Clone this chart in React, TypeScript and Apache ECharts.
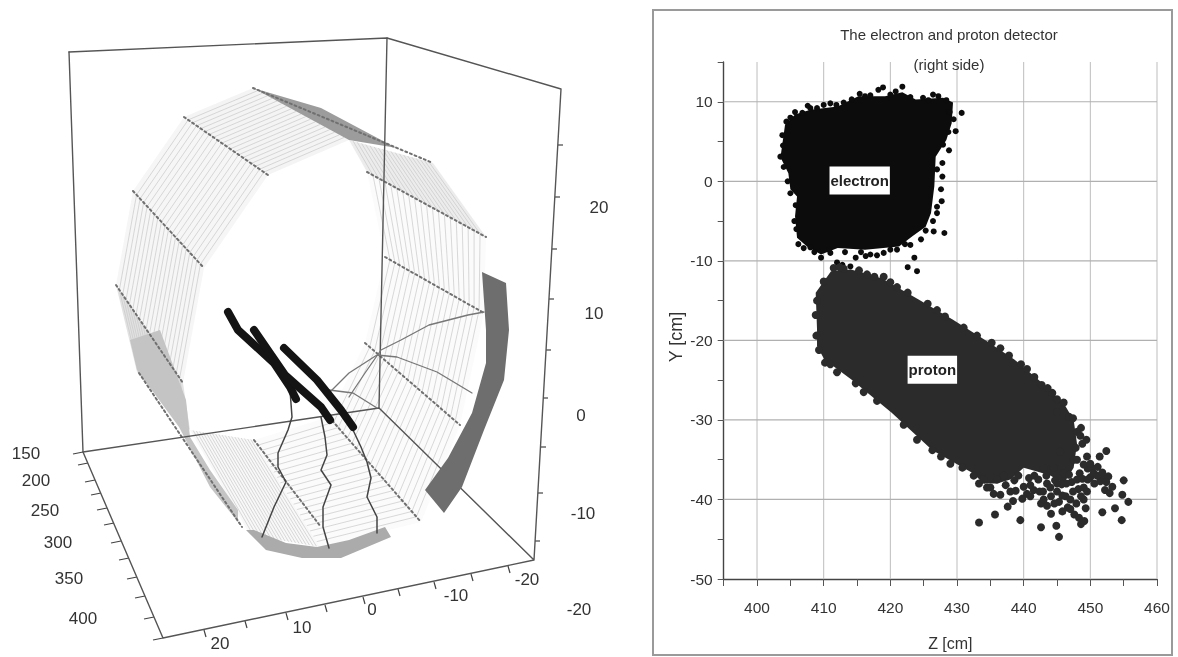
import React, { useEffect, useRef } from "react";
import * as echarts from "echarts";

// ---------- right panel: detector hits (Z [cm], Y [cm]) ----------
const zGrid = [400, 410, 420, 430, 440, 450, 460];
const yGrid = [-50, -40, -30, -20, -10, 0, 10];
const electronOutline = [[403.5,2.9],[404.2,7.1],[405.7,8.4],[408,9],[412.1,9.4],[415.2,10.7],[419.2,10.7],[421.8,11.2],[423.8,10.3],[427.9,10.5],[429.4,9.9],[429.2,7.3],[428.4,5.2],[426.8,3.1],[426.6,-0.6],[426.1,-4],[425.3,-5.7],[423.3,-6.9],[421.3,-8.2],[416.2,-8.6],[412.1,-8.4],[409.6,-9.2],[407.5,-8.2],[406,-7.1],[405.7,-4.4],[406,-1.9],[405,-1],[404.7,1],[403.7,2.7]];
const electronEdge = [[428.9,8.7],[430.7,8.6],[429.8,6.3],[428.8,3.9],[427.8,2.3],[427.8,0.6],[427.6,-1],[427.7,-2.5],[427,-4],[428.1,-6.5],[423.6,-9.6],[422.6,-10.8],[424,-11.3],[418.9,11.8],[418.2,11.5],[421.8,11.9],[414.8,-9.6],[416.3,-9.4],[415.6,-8.9],[412,-10.2],[412.8,-10.5],[414,-10.7],[408,-8.3],[409.6,-9.6],[408,9.2],[405.7,8.7],[403.5,3.1],[410,9.6],[411.9,9.6],[413,9.9],[406.2,-7.9],[407,-8.4],[425.3,-6.2],[426.5,-6.3],[424.6,-7.3],[423,-8],[421,-8.6],[419,-9],[417,-9.2],[426.4,10.9],[424.9,10.5],[415.4,11],[417,10.8],[404.4,7.5],[405,8],[406.8,8.6],[407.6,9.5],[409,9.2],[411,9.8],[414.2,10.3],[416.2,10.7],[420,10.9],[420.8,11.3],[423,10.6],[425.7,10.2],[427.2,10.7],[428.4,10.2],[429.5,7.8],[428.7,6.2],[427.9,4.6],[427,1.5],[427,-3.2],[426.4,-5],[422.2,-7.9],[420,-8.6],[418,-9.3],[413.2,-8.9],[411,-9],[410.8,-8.6],[408.6,-8.9],[405.9,-6],[405.6,-5],[405.8,-3],[405,-1.5],[404.6,0],[404,1.8],[403.9,4.5],[403.8,5.8]];
const protonOutline = [[408.8,-14],[411.1,-11.3],[414.1,-11.1],[418.7,-12.2],[424.3,-14.9],[429.4,-17.4],[434.5,-20.1],[438.6,-22.4],[442.7,-25.3],[446,-27.9],[447.5,-30],[448,-33],[447.5,-36],[446,-38],[444,-37],[442,-36.5],[440,-36],[438,-37.5],[436,-38],[434,-38],[432.4,-36.7],[426.3,-33.8],[420.2,-29.1],[414.1,-24.9],[410.1,-22.4],[409,-20.7],[409,-18.6]];
const protonHits = [[433.3,-42.9],[435.7,-41.9],[437.6,-40.9],[439.5,-42.6],[442.6,-43.5],[444.9,-43.3],[445.3,-44.7],[444.1,-41.8],[442.6,-40.5],[448.6,-43.1],[449.1,-42.7],[451.8,-41.6],[453.7,-41.1],[454.7,-42.6],[454.8,-39.4],[455,-37.6],[455.7,-40.3],[452.4,-33.9],[451.4,-34.6],[449.5,-34.6],[452.2,-38.8],[452.9,-39.2],[452.7,-37.1],[450.6,-38],[449.6,-36.1],[451.1,-35.9],[446,-27.8],[446.8,-29.6],[448.6,-31],[444.3,-26.6],[442.7,-25.6],[410.2,-22.8],[426.3,-33.8],[434.5,-38.5],[435.5,-39.3],[436.5,-39.4],[437.3,-38.2],[438,-39],[438.6,-37.6],[439.8,-39.9],[440,-38.4],[440.8,-37.3],[441.5,-38.8],[442.2,-37.5],[442.9,-39],[443.5,-38],[444.1,-39.6],[444.7,-37.6],[445,-39],[445.3,-40.3],[445.7,-38.1],[446,-36.7],[446.3,-39.6],[446.6,-41],[447,-40],[447.2,-37.8],[447.6,-41.9],[447.9,-40.5],[448.2,-38.7],[449,-40],[449.3,-41.1],[449,-38.5],[448.4,-36.7],[449,-35.6],[450,-37.2],[451.5,-37.7],[452,-37.3],[453.3,-38.4],[445,-29],[447.4,-29.8],[448,-31.5],[447.8,-33.5],[447.5,-35],[445.5,-34],[444.5,-36],[443,-36],[432.5,-37],[433.3,-38],[429,-35.5],[424,-32.5],[416,-26.5],[412,-24],[413,-11],[411.5,-10.9],[416.5,-11.7],[419,-12],[421,-13.3],[427,-16.2],[431,-18.4],[436.5,-21],[440.5,-23.6],[409,-15],[408.8,-16.8],[410,-12.6],[412.4,-10.8],[415.3,-11.2],[417.6,-12],[420,-12.7],[422.6,-14],[425.6,-15.4],[428.2,-17],[433,-19.4],[435.2,-20.3],[437.8,-21.9],[439.6,-23],[441.6,-24.6],[443.6,-26],[445,-27.4],[418,-27.6],[422,-30.6],[427.6,-34.6],[430.8,-36],[414.8,-25.4],[411,-23],[409.3,-21.2],[408.9,-19.4],[436,-37.5],[437,-37],[438.8,-38.9],[439.2,-37],[440.5,-39.3],[441,-38.2],[441.6,-37],[442.4,-39],[443,-40],[443.4,-37],[444,-38.5],[444.6,-40.5],[445,-38],[445.8,-39.5],[446.4,-38],[446.8,-36.9],[447.4,-39],[448,-37.5],[448.6,-39.6],[448.8,-37.4],[449.5,-39],[450.2,-36],[450.5,-36.7],[451,-37],[451.8,-36.6],[452.4,-37.8],[448,-35],[448.8,-33],[449.4,-32.5],[448.5,-32],[447,-41.2],[448.3,-42.3],[445.8,-41.5],[443.5,-40.8],[449.6,-37.5],[450,-35.5],[435,-38.5],[434,-37.5],[441,-39.6],[438.4,-40.2]];
const detectorTags = [[415.4, 0.1, "electron"], [426.3, -23.7, "proton"]];

// ---------- left panel: picture-plane (u, v) readings of the 3D view ----------
const boxLines = [
  [[69,52],[387,38],[561,89],[534,560],[163,638],[83,452],[379,408],[534,560]],
  [[69,52],[83,452]],
  [[387,38],[379,408]],
];
const depthTicks = [[83,452],[88,463],[95,480],[101,493],[107,508],[114,523],[121,541],[129,558],[137,577],[145,596],[154,617],[163,638]];
const frontTicks = [[204,630],[245,621],[286,613],[325,605],[363,597],[398,589],[434,582],[471,574],[508,566]];
const sideTicks = [[558,145],[555,197],[552,249],[549,299],[546,350],[543,398],[541,447],[538,493],[535,541]];
const sectors = [
  [184,117,253,88,349,140,268,175],
  [133,191,184,117,268,175,204,268],
  [116,285,133,191,204,268,183,383],
  [137,372,116,285,183,383,190,430],
  [190,430,250,535,320,547,254,440],
  [254,440,329,417,421,522,320,547],
  [329,417,365,343,460,425,421,522],
  [365,343,385,257,484,313,460,425],
  [385,257,367,172,486,237,484,313],
  [367,172,349,140,433,163,486,237],
];
const sectorFills = ["#f4f4f4","#f6f6f6","#f6f6f6","#e2e2e2","#f8f8f8","#fbfbfb","#fbfbfb","#fbfbfb","#fbfbfb","#ececec"];
const wireRows = [
  [[253,88],[433,163]],[[184,117],[268,175]],[[133,191],[204,268]],[[116,285],[183,383]],
  [[139,373],[242,527]],[[254,440],[321,527]],[[329,417],[421,522]],[[365,343],[460,425]],
  [[385,257],[484,313]],[[367,172],[486,237]],
];
const topBand = [[253,88],[321,108],[385,142],[397,148],[349,140]];
const sideBand = [[130,340],[160,330],[186,400],[190,437],[210,470],[238,510],[238,522],[210,487],[179,427],[137,370]];
const rightArc = [[482,272],[506,283],[509,330],[504,380],[484,430],[462,487],[444,513],[425,490],[448,458],[472,413],[486,363],[486,330]];
const bottomArc = [[246,530],[266,550],[302,558],[341,558],[391,537],[385,527],[349,540],[317,547],[286,543],[254,530]];
const tracks = [
  [[228,312],[238,330],[274,363],[290,387],[296,399]],
  [[254,330],[285,375],[321,407],[330,420]],
  [[284,348],[317,380],[341,410],[353,427]],
];
const showers = [
  [[290,390],[292,417],[288,430],[278,453],[278,467],[286,482],[274,507],[262,537]],
  [[321,417],[325,437],[327,455],[321,470],[331,485],[323,507],[323,527],[329,548]],
  [[353,430],[361,447],[367,462],[371,478],[367,497],[377,517],[377,533]],
];
const bentTracks = [
  [[484,312],[468,315],[429,325],[401,340],[381,350],[365,373],[349,397]],
  [[472,393],[437,372],[397,357],[377,355],[349,373],[329,393]],
  [[329,390],[353,393],[377,408]],
];
const planeLabels = [
  [26,453,"150"],[36,480,"200"],[45,510,"250"],[58,542,"300"],[69,578,"350"],[83,618,"400"],
  [220,643,"20"],[302,627,"10"],[372,609,"0"],[456,595,"-10"],[527,579,"-20"],
  [599,207,"20"],[594,313,"10"],[581,415,"0"],[583,513,"-10"],[579,609,"-20"],
];

const FONT = "'Liberation Sans', sans-serif";
const INK = "#333";

function polygonSeries(points: number[][], fill: string, axis: number, z: number) {
  return {
    type: "custom", xAxisIndex: axis, yAxisIndex: axis, z, silent: true, clip: false,
    data: [points.flat()],
    renderItem: (_: any, api: any) => ({
      type: "polygon",
      shape: { points: points.map((p) => api.coord(p)) },
      style: { fill },
    }),
  };
}
function segmentSeries(rows: number[][], stroke: string, width: number, axis: number, z: number) {
  return {
    type: "custom", xAxisIndex: axis, yAxisIndex: axis, z, silent: true, clip: false,
    data: rows,
    renderItem: (_: any, api: any) => {
      const a = api.coord([api.value(0), api.value(1)]);
      const b = api.coord([api.value(2), api.value(3)]);
      return { type: "line", shape: { x1: a[0], y1: a[1], x2: b[0], y2: b[1] }, style: { stroke, lineWidth: width } };
    },
  };
}
function pathSeries(points: number[][], color: string, width: number, z: number, dash?: number[]) {
  return {
    type: "line", xAxisIndex: 0, yAxisIndex: 0, z, silent: true, showSymbol: false, symbol: "none",
    data: points,
    lineStyle: { color, width, cap: "round", join: "round", type: dash ?? "solid" },
  };
}
const HATCH_LINES = 20;
function sectorSeries() {
  return {
    type: "custom", xAxisIndex: 0, yAxisIndex: 0, z: 2, silent: true, clip: false,
    data: sectors,
    renderItem: (params: any, api: any) => {
      const c = [0, 1, 2, 3].map((i) => api.coord([api.value(i * 2), api.value(i * 2 + 1)]));
      const children: any[] = [{ type: "polygon", shape: { points: c }, style: { fill: sectorFills[params.dataIndex] } }];
      for (let k = 1; k < HATCH_LINES; k++) {
        const t = k / HATCH_LINES;
        children.push({
          type: "line",
          shape: {
            x1: c[0][0] + (c[3][0] - c[0][0]) * t, y1: c[0][1] + (c[3][1] - c[0][1]) * t,
            x2: c[1][0] + (c[2][0] - c[1][0]) * t, y2: c[1][1] + (c[2][1] - c[1][1]) * t,
          },
          style: { stroke: "#c8c8c8", lineWidth: 0.7 },
        });
      }
      return { type: "group", children };
    },
  };
}

export default function App() {
  const ref = useRef<HTMLDivElement>(null);
  useEffect(() => {
    document.body.style.margin = "0";
    const chart = echarts.init(ref.current!, undefined, { renderer: "svg" });
    const axisStyle = { lineStyle: { color: "#444", width: 1.4 } };
    chart.setOption({
      animation: false,
      backgroundColor: "#fff",
      textStyle: { fontFamily: FONT },
      title: [
        { text: "The electron and proton detector", left: 944, top: 22, textAlign: "center",
          textStyle: { fontFamily: FONT, fontSize: 15, fontWeight: "normal", color: INK } },
        { text: "(right side)", left: 944, top: 52, textAlign: "center",
          textStyle: { fontFamily: FONT, fontSize: 15, fontWeight: "normal", color: INK } },
      ],
      graphic: [{
        type: "rect", z: -1, shape: { x: 653, y: 10, width: 519, height: 645 },
        style: { fill: "#fff", stroke: "#9a9a9a", lineWidth: 2 },
      }],
      grid: [
        { left: 0, top: 0, width: 1178, height: 657 },
        { left: 723.7, top: 62, width: 433.3, height: 517 },
      ],
      xAxis: [
        { type: "value", gridIndex: 0, min: 0, max: 1178, show: false },
        { type: "value", gridIndex: 1, min: 395, max: 460, interval: 5, name: "Z [cm]", nameLocation: "middle", nameGap: 56,
          nameTextStyle: { fontFamily: FONT, fontSize: 16, color: INK, padding: [0, 0, 0, 20] },
          axisLine: { onZero: false, ...axisStyle }, axisTick: { length: 7, lineStyle: { color: "#555" } },
          splitLine: { show: false },
          axisLabel: { fontFamily: FONT, fontSize: 15.5, color: INK, margin: 20, formatter: (v: number) => (v % 10 === 0 ? String(v) : "") } },
      ],
      yAxis: [
        { type: "value", gridIndex: 0, min: 0, max: 657, inverse: true, show: false },
        { type: "value", gridIndex: 1, min: -50, max: 15, interval: 5, name: "Y [cm]", nameLocation: "middle", nameGap: 39, nameRotate: 90,
          nameTextStyle: { fontFamily: FONT, fontSize: 18, color: INK, padding: [0, 33, 0, 0] },
          axisLine: { onZero: false, ...axisStyle }, axisTick: { length: 6, lineStyle: { color: "#555" } },
          splitLine: { show: false },
          axisLabel: { fontFamily: FONT, fontSize: 15.5, color: INK, margin: 11, formatter: (v: number) => (v % 10 === 0 ? String(v) : "") } },
      ],
      series: [
        // left panel
        sectorSeries(),
        polygonSeries(topBand, "#9c9c9c", 0, 3),
        polygonSeries(sideBand, "#c4c4c4", 0, 3),
        polygonSeries(rightArc, "#6e6e6e", 0, 6),
        polygonSeries(bottomArc, "#ababab", 0, 6),
        ...boxLines.map((b) => pathSeries(b, "#555", 1.4, 5)),
        ...wireRows.map((w) => pathSeries(w, "#707070", 2, 4, [2, 3])),
        ...bentTracks.map((t) => pathSeries(t, "#777", 1.3, 5)),
        ...showers.map((t) => pathSeries(t, "#444", 1.5, 7)),
        ...tracks.map((t) => pathSeries(t, "#141414", 8, 8)),
        segmentSeries(depthTicks.map(([u, v]) => [u, v, u - 10, v + 2]), "#444", 1.2, 0, 5),
        segmentSeries(frontTicks.map(([u, v]) => [u, v, u + 2, v + 7]), "#444", 1.2, 0, 5),
        segmentSeries(sideTicks.map(([u, v]) => [u, v, u + 5, v]), "#444", 1.2, 0, 5),
        {
          type: "scatter", xAxisIndex: 0, yAxisIndex: 0, symbolSize: 0, z: 9, silent: true,
          data: planeLabels, itemStyle: { opacity: 1 },
          label: { show: true, position: "inside", fontFamily: FONT, fontSize: 17, color: INK,
            formatter: (p: any) => p.value[2] },
        },
        // right panel
        segmentSeries(zGrid.map((z) => [z, -50, z, 15]), "#bdbdbd", 1, 1, 1),
        segmentSeries(yGrid.slice(1).map((y) => [395, y, 460, y]), "#b0b0b0", 1.2, 1, 1),
        polygonSeries(electronOutline, "#0c0c0c", 1, 3),
        polygonSeries(protonOutline, "#2b2b2b", 1, 3),
        { type: "scatter", xAxisIndex: 1, yAxisIndex: 1, symbolSize: 6, z: 3, silent: true, data: electronEdge, itemStyle: { color: "#0c0c0c", opacity: 1 } },
        { type: "scatter", xAxisIndex: 1, yAxisIndex: 1, symbolSize: 8, z: 3, silent: true, data: protonHits, itemStyle: { color: "#2b2b2b", opacity: 1 } },
        {
          type: "scatter", xAxisIndex: 1, yAxisIndex: 1, symbolSize: 0, z: 9, silent: true,
          data: detectorTags, itemStyle: { opacity: 1 },
          label: { show: true, position: "inside", fontFamily: FONT, fontSize: 15, color: "#222", fontWeight: "bold",
            backgroundColor: "#fff", padding: [7, 1, 6, 1], formatter: (p: any) => p.value[2] },
        },
      ],
    });
    return () => chart.dispose();
  }, []);
  return <div ref={ref} style={{ position: "absolute", left: 0, top: 0, width: 1178, height: 657, filter: "blur(0.7px)" }} />;
}
